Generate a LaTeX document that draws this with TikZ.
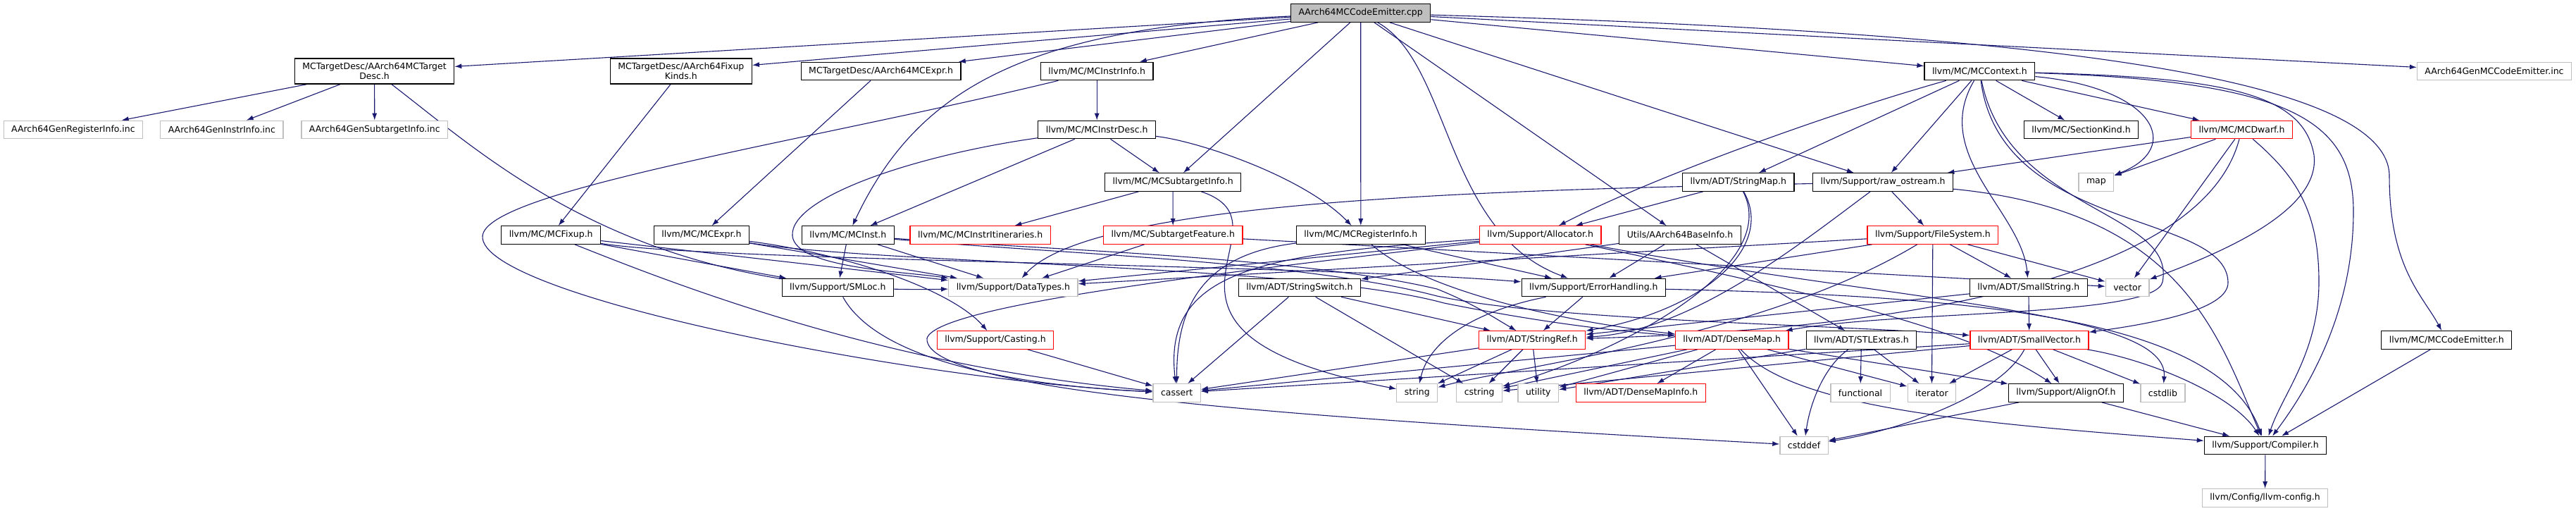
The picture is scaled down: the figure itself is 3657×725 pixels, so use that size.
\documentclass[tikz,border=0pt]{standalone}
\usepackage{fontspec}
\usetikzlibrary{arrows.meta}
\newfontfamily\graphfont{DejaVu Sans}
\definecolor{depblue}{RGB}{25,25,112}
\definecolor{sysgray}{RGB}{191,191,191}
\definecolor{cutred}{RGB}{255,0,0}
\pgfdeclarelayer{edgelayer}
\pgfsetlayers{edgelayer,main}
\begin{document}
\begin{tikzpicture}[x=1pt,y=-1pt,
    hdrbox/.style={draw=black,fill=white,line width=1.2pt,inner xsep=11pt,inner ysep=6pt,minimum height=25.5pt,
      font=\graphfont\fontsize{12.5}{14.5}\selectfont},
    sysbox/.style={hdrbox,draw=sysgray},
    cutbox/.style={hdrbox,draw=cutred},
    rootbox/.style={hdrbox,fill=sysgray},
    incl/.style={draw=depblue,line width=1.1pt,-{Latex[length=10pt,width=7pt]}}]
    \useasboundingbox (0,0) rectangle (3657,725);
    \node [rootbox] (cpp) at (1931.7,18.5) {AArch64MCCodeEmitter.cpp};
    \node [hdrbox,align=center] (tdesc) at (531.6,101) {MCTargetDesc/AArch64MCTarget\\Desc.h};
    \node [hdrbox,align=center] (fixk) at (966.8,101) {MCTargetDesc/AArch64Fixup\\Kinds.h};
    \node [hdrbox] (mcexprA) at (1250.6,101) {MCTargetDesc/AArch64MCExpr.h};
    \node [hdrbox] (instrinfo) at (1557.2,101) {llvm/MC/MCInstrInfo.h};
    \node [hdrbox] (ctx) at (2810.4,101) {llvm/MC/MCContext.h};
    \node [sysbox] (geninc) at (3541,101) {AArch64GenMCCodeEmitter.inc};
    \node [sysbox] (genreg) at (103.9,184) {AArch64GenRegisterInfo.inc};
    \node [sysbox] (geninstr) at (314.9,184) {AArch64GenInstrInfo.inc};
    \node [sysbox] (gensub) at (531.8,184) {AArch64GenSubtargetInfo.inc};
    \node [hdrbox] (instrdesc) at (1557.2,184) {llvm/MC/MCInstrDesc.h};
    \node [hdrbox] (seckind) at (2954.5,184) {llvm/MC/SectionKind.h};
    \node [cutbox] (dwarf) at (3182.5,184) {llvm/MC/MCDwarf.h};
    \node [hdrbox] (subinfo) at (1665.1,258.5) {llvm/MC/MCSubtargetInfo.h};
    \node [hdrbox] (strmap) at (2467.8,258.5) {llvm/ADT/StringMap.h};
    \node [hdrbox] (rawos) at (2673.1,258.5) {llvm/Support/raw\_ostream.h};
    \node [sysbox] (map) at (2975.9,258.5) {map};
    \node [hdrbox] (fixup) at (782.2,333.5) {llvm/MC/MCFixup.h};
    \node [hdrbox] (mcexpr) at (995.9,333.5) {llvm/MC/MCExpr.h};
    \node [hdrbox] (mcinst) at (1203.9,333.5) {llvm/MC/MCInst.h};
    \node [cutbox] (itin) at (1391.7,333.5) {llvm/MC/MCInstrItineraries.h};
    \node [cutbox] (subfeat) at (1665.2,333.5) {llvm/MC/SubtargetFeature.h};
    \node [hdrbox] (reginfo) at (1931.8,333.5) {llvm/MC/MCRegisterInfo.h};
    \node [cutbox] (alloc) at (2186.7,333.5) {llvm/Support/Allocator.h};
    \node [hdrbox] (baseinfo) at (2385,333.5) {Utils/AArch64BaseInfo.h};
    \node [cutbox] (filesys) at (2743.9,333.5) {llvm/Support/FileSystem.h};
    \node [hdrbox] (smloc) at (1189.3,408) {llvm/Support/SMLoc.h};
    \node [sysbox] (datatypes) at (1438.4,408) {llvm/Support/DataTypes.h};
    \node [hdrbox] (strswitch) at (1844.9,408) {llvm/ADT/StringSwitch.h};
    \node [hdrbox] (errh) at (2262.3,408) {llvm/Support/ErrorHandling.h};
    \node [hdrbox] (smallstr) at (2879.8,408) {llvm/ADT/SmallString.h};
    \node [sysbox] (vector) at (3020.1,408) {vector};
    \node [cutbox] (casting) at (1413,482.5) {llvm/Support/Casting.h};
    \node [cutbox] (strref) at (2175.2,482.5) {llvm/ADT/StringRef.h};
    \node [cutbox] (densemap) at (2458.7,482.5) {llvm/ADT/DenseMap.h};
    \node [hdrbox] (stlext) at (2642.5,482.5) {llvm/ADT/STLExtras.h};
    \node [cutbox] (smallvec) at (2880.9,482.5) {llvm/ADT/SmallVector.h};
    \node [hdrbox] (emitter) at (3473.3,482.5) {llvm/MC/MCCodeEmitter.h};
    \node [sysbox] (cassert) at (1670.7,557.5) {cassert};
    \node [sysbox] (string) at (2011.8,557.5) {string};
    \node [sysbox] (cstring) at (2100.2,557.5) {cstring};
    \node [sysbox] (utility) at (2183.8,557.5) {utility};
    \node [cutbox] (dmapinfo) at (2329.3,557.5) {llvm/ADT/DenseMapInfo.h};
    \node [sysbox] (functional) at (2641,557.5) {functional};
    \node [sysbox] (iterator) at (2742.4,557.5) {iterator};
    \node [hdrbox] (alignof) at (2932.9,557.5) {llvm/Support/AlignOf.h};
    \node [sysbox] (cstdlib) at (3070.5,557.5) {cstdlib};
    \node [sysbox] (cstddef) at (2561,632) {cstddef};
    \node [hdrbox] (compiler) at (3216,632) {llvm/Support/Compiler.h};
    \node [sysbox] (config) at (3215.5,706.5) {llvm/Config/llvm-config.h};
    \begin{pgfonlayer}{edgelayer}
    \draw [incl] (cpp) -- (tdesc);
    \draw [incl] (cpp) -- (fixk);
    \draw [incl] (cpp) -- (mcexprA);
    \draw [incl] (cpp) -- (instrinfo);
    \draw [incl] (cpp) .. controls (1450,40) and (1300,130) .. (mcinst);
    \draw [incl] (cpp) -- (subinfo);
    \draw [incl] (cpp) -- (reginfo);
    \draw [incl] (cpp) .. controls (2060,90) and (2050,330) .. (errh);
    \draw [incl] (cpp) -- (baseinfo);
    \draw [incl] (cpp) -- (rawos);
    \draw [incl] (cpp) -- (ctx);
    \draw [incl] (cpp) -- (geninc);
    \draw [incl] (cpp) .. controls (2900,45) and (3392,110) .. (3392,250) .. controls (3392,380) and (3440,420) .. (emitter);
    \draw [incl] (tdesc) -- (genreg);
    \draw [incl] (tdesc) -- (geninstr);
    \draw [incl] (tdesc) -- (gensub);
    \draw [incl] (tdesc) .. controls (700,230) and (900,420) .. (datatypes);
    \draw [incl] (fixk) -- (fixup);
    \draw [incl] (mcexprA) -- (mcexpr);
    \draw [incl] (instrinfo) -- (instrdesc);
    \draw [incl] (instrinfo) .. controls (1150,200) and (690,270) .. (685,335) .. controls (680,420) and (1300,540) .. (cassert);
    \draw [incl] (instrdesc) -- (mcinst);
    \draw [incl] (instrdesc) -- (subinfo);
    \draw [incl] (instrdesc) .. controls (1700,200) and (1850,250) .. (reginfo);
    \draw [incl] (instrdesc) .. controls (1300,220) and (1120,280) .. (1125,335) .. controls (1130,380) and (1280,385) .. (datatypes);
    \draw [incl] (subinfo) -- (itin);
    \draw [incl] (subinfo) -- (subfeat);
    \draw [incl] (subinfo) .. controls (1850,320) and (1560,470) .. (string);
    \draw [incl] (ctx) -- (seckind);
    \draw [incl] (ctx) -- (dwarf);
    \draw [incl] (ctx) .. controls (3060,125) and (3100,210) .. (map);
    \draw [incl] (ctx) -- (rawos);
    \draw [incl] (ctx) -- (strmap);
    \draw [incl] (ctx) .. controls (2600,160) and (2350,250) .. (alloc);
    \draw [incl] (ctx) .. controls (2740,220) and (2870,300) .. (smallstr);
    \draw [incl] (ctx) .. controls (3150,110) and (3270,130) .. (3285,220) .. controls (3295,300) and (3150,360) .. (vector);
    \draw [incl] (ctx) .. controls (3250,115) and (3341,170) .. (3341,300) .. controls (3341,450) and (3270,560) .. (compiler);
    \draw [incl] (ctx) .. controls (2850,300) and (3090,300) .. (3070,400) .. controls (3060,450) and (2700,440) .. (densemap);
    \draw [incl] (ctx) .. controls (2840,330) and (3160,300) .. (3163,400) .. controls (3165,440) and (3050,460) .. (smallvec);
    \draw [incl] (dwarf) -- (rawos);
    \draw [incl] (dwarf) -- (map);
    \draw [incl] (dwarf) -- (vector);
    \draw [incl] (dwarf) .. controls (3120,420) and (2600,470) .. (strref);
    \draw [incl] (dwarf) .. controls (3260,250) and (3292,300) .. (3292,400) .. controls (3292,500) and (3240,560) .. (compiler);
    \draw [incl] (strmap) -- (alloc);
    \draw [incl] (strmap) .. controls (2520,350) and (2420,440) .. (strref);
    \draw [incl] (strmap) .. controls (2530,380) and (2300,500) .. (cstring);
    \draw [incl] (rawos) -- (filesys);
    \draw [incl] (rawos) .. controls (2100,270) and (1550,285) .. (datatypes);
    \draw [incl] (rawos) .. controls (2550,350) and (2400,470) .. (strref);
    \draw [incl] (rawos) .. controls (3100,300) and (3150,480) .. (compiler);
    \draw [incl] (fixup) -- (smloc);
    \draw [incl] (fixup) -- (datatypes);
    \draw [incl] (fixup) .. controls (1000,370) and (1850,375) .. (errh);
    \draw [incl] (fixup) .. controls (950,400) and (1250,520) .. (cassert);
    \draw [incl] (mcexpr) -- (datatypes);
    \draw [incl] (mcexpr) .. controls (1200,360) and (1350,410) .. (casting);
    \draw [incl] (mcexpr) .. controls (1250,375) and (1850,375) .. (2050,430) .. controls (2200,460) and (2300,470) .. (densemap);
    \draw [incl] (mcinst) -- (smloc);
    \draw [incl] (mcinst) -- (datatypes);
    \draw [incl] (mcinst) .. controls (1500,355) and (1850,365) .. (2040,410) .. controls (2090,430) and (2120,450) .. (strref);
    \draw [incl] (mcinst) .. controls (1500,360) and (1850,370) .. (2040,420) .. controls (2200,455) and (2600,460) .. (smallvec);
    \draw [incl] (subfeat) -- (datatypes);
    \draw [incl] (subfeat) -- (vector);
    \draw [incl] (reginfo) .. controls (2030,420) and (2250,460) .. (densemap);
    \draw [incl] (reginfo) -- (errh);
    \draw [incl] (reginfo) .. controls (1720,360) and (1670,420) .. (cassert);
    \draw [incl] (alloc) -- (datatypes);
    \draw [incl] (alloc) .. controls (1800,360) and (1650,380) .. (cassert);
    \draw [incl] (alloc) .. controls (2600,420) and (2800,470) .. (alignof);
    \draw [incl] (alloc) .. controls (2700,430) and (3080,440) .. (cstdlib);
    \draw [incl] (alloc) .. controls (1800,380) and (1330,430) .. (1316,480) .. controls (1310,560) and (1900,595) .. (cstddef);
    \draw [incl] (baseinfo) -- (strswitch);
    \draw [incl] (baseinfo) -- (errh);
    \draw [incl] (baseinfo) -- (stlext);
    \draw [incl] (filesys) -- (datatypes);
    \draw [incl] (filesys) -- (errh);
    \draw [incl] (filesys) .. controls (2500,480) and (2150,520) .. (string);
    \draw [incl] (filesys) -- (iterator);
    \draw [incl] (filesys) -- (smallstr);
    \draw [incl] (filesys) -- (vector);
    \draw [incl] (smloc) .. controls (1240,500) and (1400,545) .. (cassert);
    \draw [incl] (strswitch) -- (cassert);
    \draw [incl] (strswitch) -- (cstring);
    \draw [incl] (strswitch) -- (strref);
    \draw [incl] (errh) .. controls (2100,440) and (2030,480) .. (string);
    \draw [incl] (errh) -- (strref);
    \draw [incl] (errh) .. controls (2800,420) and (3150,450) .. (compiler);
    \draw [incl] (smallstr) -- (smallvec);
    \draw [incl] (smallstr) -- (strref);
    \draw [incl] (casting) -- (cassert);
    \draw [incl] (strref) -- (cassert);
    \draw [incl] (strref) -- (string);
    \draw [incl] (strref) -- (cstring);
    \draw [incl] (strref) -- (utility);
    \draw [incl] (densemap) -- (cassert);
    \draw [incl] (densemap) -- (cstring);
    \draw [incl] (densemap) -- (utility);
    \draw [incl] (densemap) -- (dmapinfo);
    \draw [incl] (densemap) -- (cstddef);
    \draw [incl] (densemap) -- (iterator);
    \draw [incl] (densemap) -- (alignof);
    \draw [incl] (densemap) .. controls (2550,580) and (2800,600) .. (compiler);
    \draw [incl] (stlext) .. controls (2590,520) and (2570,570) .. (cstddef);
    \draw [incl] (stlext) -- (functional);
    \draw [incl] (stlext) -- (iterator);
    \draw [incl] (stlext) -- (utility);
    \draw [incl] (smallvec) -- (cassert);
    \draw [incl] (smallvec) -- (cstring);
    \draw [incl] (smallvec) -- (iterator);
    \draw [incl] (smallvec) .. controls (2840,560) and (2700,610) .. (cstddef);
    \draw [incl] (smallvec) -- (alignof);
    \draw [incl] (smallvec) -- (cstdlib);
    \draw [incl] (smallvec) .. controls (3050,510) and (3170,560) .. (compiler);
    \draw [incl] (alignof) -- (cstddef);
    \draw [incl] (alignof) -- (compiler);
    \draw [incl] (emitter) -- (compiler);
    \draw [incl] (compiler) -- (config);
    \end{pgfonlayer}
\end{tikzpicture}
\end{document}
